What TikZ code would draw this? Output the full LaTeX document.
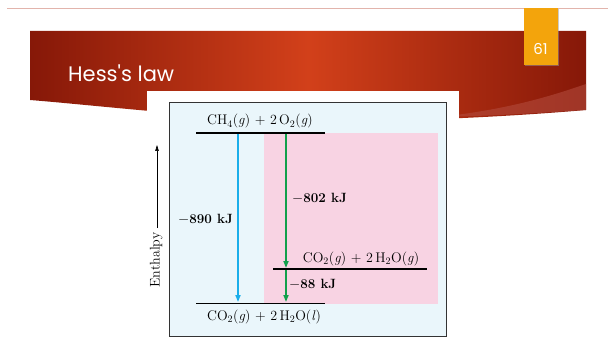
\documentclass[tikz,border=0pt]{standalone}
\usepackage{fontspec}
\newfontfamily\titlefont{Poppins}
\usetikzlibrary{arrows.meta}
\definecolor{bannerdark}{HTML}{861808}
\definecolor{bannermid}{HTML}{D2401A}
\definecolor{swoosh}{HTML}{B24A3C}
\definecolor{pagenum}{HTML}{F3A40C}
\definecolor{topline}{HTML}{E2B4AC}
\definecolor{diagbg}{HTML}{EAF6FB}
\definecolor{pinkbox}{HTML}{F8D3E3}
\definecolor{bluearrow}{HTML}{1AAEEA}
\definecolor{greenarrow}{HTML}{12A04C}
\tikzset{
  level/.style={draw=black, line width=1.1pt},
  chem/.style={font=\fontsize{14}{16}\selectfont, inner sep=0pt},
  val/.style={font=\fontsize{13.4}{16}\selectfont\bfseries, inner sep=0pt},
  enarrow/.style={line width=1.6pt, -{Triangle[length=7pt,width=5pt]}},
}
\begin{document}
\begin{tikzpicture}[x=1pt,y=-1pt]
\useasboundingbox (0,0) rectangle (608,342);
\fill[white] (0,0) rectangle (608,342);
% top rule
\draw[topline, line width=0.8pt] (7,8.5) -- (608,8.5);
% banner
\shade[left color=bannerdark, right color=bannerdark, middle color=bannermid]
  (30,31) -- (586,31) -- (586,110) .. controls (470,120) and (330,124) .. (250,119)
  .. controls (150,112) and (80,104) .. (30,100) -- cycle;
\fill[swoosh, opacity=0.6] (586,84) .. controls (540,100) and (500,110) .. (440,117)
  .. controls (490,116) and (540,113) .. (586,110) -- cycle;
\node[font=\titlefont\fontsize{21}{25}\selectfont, text=white, anchor=base west, inner sep=0pt] (title) at (68,82) {Hess's law};
% page number
\fill[black!40, opacity=0.5] (525,9) rectangle (559,66.5);
\fill[pagenum] (524,8) rectangle (558,65);
\node[font=\titlefont\fontsize{15}{18}\selectfont, text=white, inner sep=0pt] (num) at (540.5,48.5) {61};
% white picture area
\fill[white] (147,91) rectangle (459,342);
% diagram frame
\draw[fill=diagbg, draw=black!80, line width=0.8pt] (169,102) rectangle (446.5,336);
\fill[pinkbox] (264,133) rectangle (438,304);
% levels
\coordinate (topL) at (196,133);   \coordinate (topR) at (325,133);
\coordinate (midL) at (273,269);   \coordinate (midR) at (427,269);
\coordinate (botL) at (196,303.5); \coordinate (botR) at (325,303.5);
\coordinate (bTop) at (238,134);   \coordinate (bBot) at (238,302);
\coordinate (gTop) at (286,134);   \coordinate (gMid) at (286,268);
\coordinate (gMid2) at (286,270);  \coordinate (gBot) at (286,302);
\draw[enarrow, bluearrow] (bTop) -- (bBot);
\draw[enarrow, greenarrow] (gTop) -- (gMid);
\draw[enarrow, greenarrow] (gMid2) -- (gBot);
\draw[level] (topL) -- (topR);
\draw[level] (midL) -- (midR);
\draw[level] (botL) -- (botR);
% texts
\node[chem, anchor=base] (reac) at (260,125) {CH$_4$(\textit{g}) + 2\,O$_2$(\textit{g})};
\node[chem, anchor=base] (inter) at (361,262) {CO$_2$(\textit{g}) + 2\,H$_2$O(\textit{g})};
\node[chem, anchor=base] (prod) at (264,320) {CO$_2$(\textit{g}) + 2\,H$_2$O(\textit{l})};
\node[val, anchor=base west] (v802) at (292,203) {$-$802 kJ};
\node[val, anchor=base west] (v890) at (178,223) {$-$890 kJ};
\node[val, anchor=base west] (v88) at (289,288) {$-$88 kJ};
% enthalpy axis
\node[chem, rotate=90, anchor=base] (enth) at (159.5,260) {Enthalpy};
\coordinate (axTop) at (157,145);
\coordinate (axBot) at (157,228);
\draw[line width=0.6pt, -{Triangle[length=6pt,width=3.5pt]}] (axBot) -- (axTop);
\end{tikzpicture}
\end{document}
